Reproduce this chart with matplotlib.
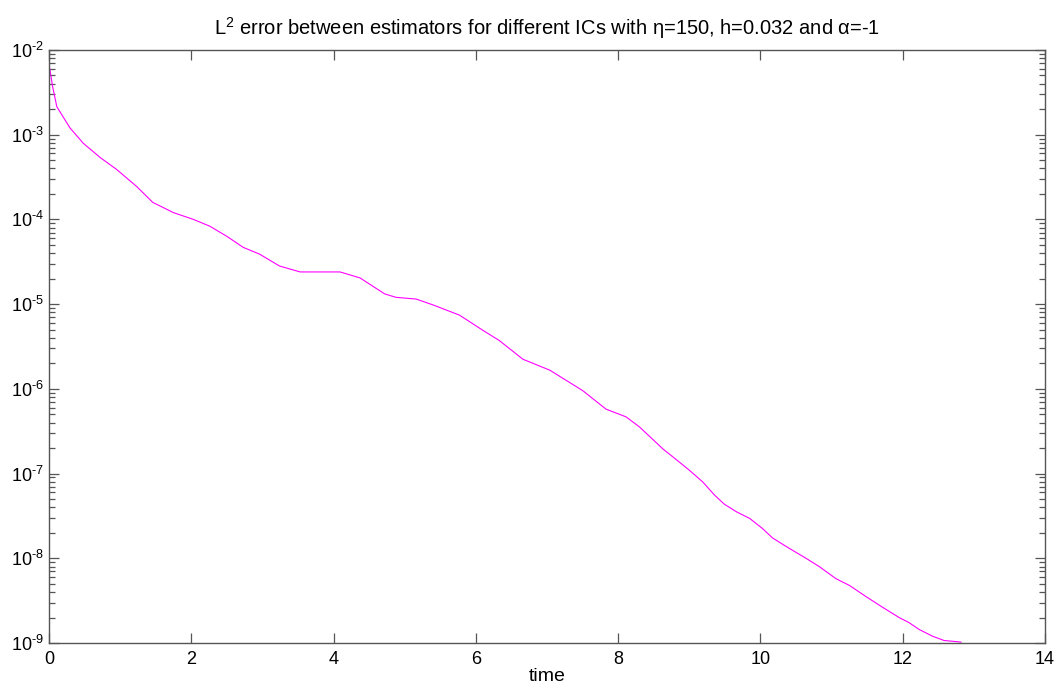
import matplotlib
matplotlib.use("Agg")
import matplotlib.pyplot as plt
import matplotlib.ticker as mticker
import numpy as np

plt.rcParams["font.family"] = ["Liberation Sans", "DejaVu Sans"]
plt.rcParams["mathtext.fontset"] = "custom"
plt.rcParams["mathtext.rm"] = "Liberation Sans"
plt.rcParams["mathtext.it"] = "Liberation Sans:italic"
plt.rcParams["mathtext.bf"] = "Liberation Sans:bold"
plt.rcParams["axes.unicode_minus"] = False

# Time samples and L2 error between the two estimators
time = [0.0, 0.014, 0.05, 0.11, 0.295, 0.48, 0.72, 0.95, 1.23, 1.46, 1.75, 2.03,
        2.26, 2.50, 2.73, 2.96, 3.24, 3.53, 3.81, 4.09, 4.37, 4.72, 4.88, 5.16,
        5.40, 5.77, 6.10, 6.33, 6.66, 7.04, 7.50, 7.83, 8.11, 8.30, 8.44, 8.63,
        8.75, 9.00, 9.19, 9.35, 9.49, 9.66, 9.85, 10.03, 10.17, 10.36, 10.64,
        10.83, 11.06, 11.25, 11.48, 11.72, 11.95, 12.09, 12.23, 12.42, 12.58,
        12.77, 12.82]
log_err = [-2.18, -2.235, -2.43, -2.67, -2.92, -3.10, -3.27, -3.41, -3.61, -3.80,
           -3.92, -4.00, -4.08, -4.20, -4.33, -4.41, -4.55, -4.62, -4.62, -4.62,
           -4.69, -4.88, -4.92, -4.94, -5.01, -5.13, -5.31, -5.43, -5.65, -5.78,
           -6.02, -6.24, -6.33, -6.45, -6.56, -6.71, -6.79, -6.96, -7.10, -7.25,
           -7.36, -7.45, -7.53, -7.65, -7.76, -7.86, -8.00, -8.10, -8.24, -8.32,
           -8.45, -8.58, -8.70, -8.76, -8.84, -8.92, -8.97, -8.985, -8.99]
error = [10.0 ** v for v in log_err]

x_ticks = [0, 2, 4, 6, 8, 10, 12, 14]
y_decades = [-9, -8, -7, -6, -5, -4, -3, -2]

fig = plt.figure(figsize=(10.63, 6.95), dpi=100)
ax = fig.add_axes([0.0461, 0.0748, 0.9370, 0.8533])

ax.semilogy(time, error, color="#ff00ff", lw=0.8)

ax.set_xlim(0, 14)
ax.set_ylim(1e-9, 1e-2)
ax.set_xticks(x_ticks)
ax.set_xticklabels([str(t) for t in x_ticks])
ax.set_yticks([10.0 ** d for d in y_decades])
ax.set_yticklabels([r"$\mathregular{10^{\text{-}%d}}$" % (-d) for d in y_decades])
ax.yaxis.set_minor_locator(mticker.LogLocator(base=10, subs=np.arange(2, 10), numticks=20))
ax.yaxis.set_minor_formatter(mticker.NullFormatter())

axis_color = "#555555"
for s in ax.spines.values():
    s.set_color(axis_color)
    s.set_linewidth(1.0)
ax.tick_params(which="both", direction="in", top=True, right=True,
               colors=axis_color, labelcolor="black", labelsize=13)
ax.tick_params(which="major", length=7, width=0.9)
ax.tick_params(which="minor", length=4, width=0.9)
ax.tick_params(axis="x", pad=6)

ax.set_xlabel("time", fontsize=14, labelpad=0)
ax.set_title(r"L$^2$ error between estimators for different ICs with η=150, h=0.032 and α=-1",
             fontsize=14.5, pad=11)

fig.savefig("out.png", dpi=100, facecolor="white")
